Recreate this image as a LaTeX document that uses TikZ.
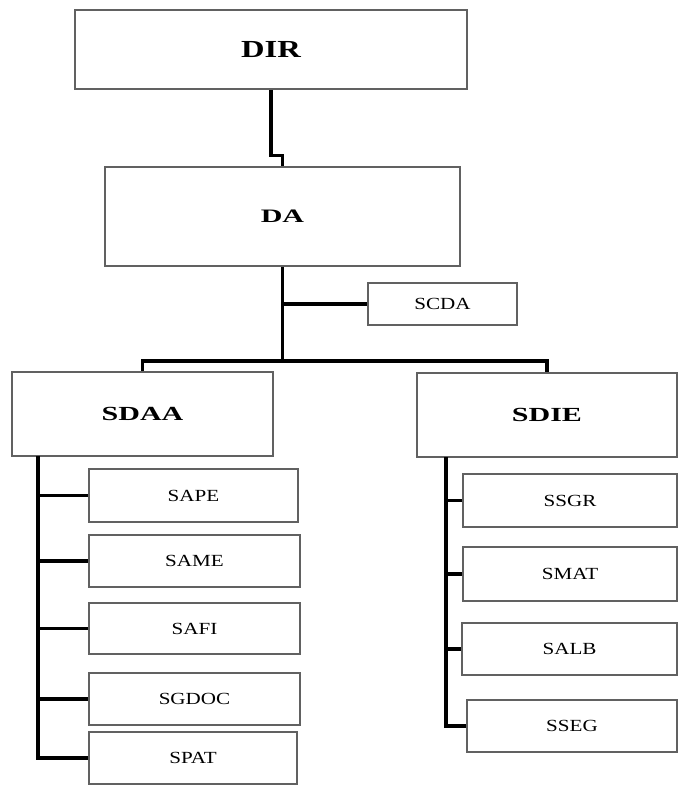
\documentclass[tikz,border=0pt]{standalone}
\usepackage{fontspec}
\usepackage{graphicx}
\setmainfont{Liberation Serif}
\newcommand\sxtext[2]{\scalebox{#1}[1]{#2}}
\usetikzlibrary{shadows}
\begin{document}
\begin{tikzpicture}[x=1pt,y=-1pt,
  box/.style={draw=black!62, line width=1.6pt, fill=white, inner sep=0pt,
    drop shadow={shadow xshift=1pt, shadow yshift=-1.2pt, fill=black!25, opacity=0.6}},
  hdr/.style={box},
  lbl/.style={box, font=\fontsize{17}{19}\selectfont},
  trunk/.style={line width=3.2pt},
  twig/.style={line width=3.2pt}]
\useasboundingbox (0,0) rectangle (678,787);
\fill[white] (0,0) rectangle (678,787);

\node[hdr, minimum width=392pt, minimum height=79pt, font=\bfseries\fontsize{24.5}{26}\selectfont] (DIR) at (271,49.5) {\sxtext{1.33}{DIR}};
\node[hdr, minimum width=355pt, minimum height=99pt, font=\bfseries\fontsize{19}{21}\selectfont] (DA) at (282.5,216.5) {\sxtext{1.58}{DA}};
\node[lbl, minimum width=149pt, minimum height=42pt] (SCDA) at (442.5,304) {\sxtext{1.24}{SCDA}};
\node[hdr, minimum width=261pt, minimum height=84pt, font=\bfseries\fontsize{20}{22}\selectfont] (SDAA) at (142.5,414) {\sxtext{1.5}{SDAA}};
\node[hdr, minimum width=260pt, minimum height=84pt, font=\bfseries\fontsize{20}{22}\selectfont] (SDIE) at (547,415) {\sxtext{1.5}{SDIE}};

\node[lbl, minimum width=209pt, minimum height=53pt] (SAPE) at (193.5,495.5) {\sxtext{1.24}{SAPE}};
\node[lbl, minimum width=211pt, minimum height=52pt] (SAME) at (194.5,561) {\sxtext{1.24}{SAME}};
\node[lbl, minimum width=211pt, minimum height=51pt] (SAFI) at (194.5,628.5) {\sxtext{1.24}{SAFI}};
\node[lbl, minimum width=211pt, minimum height=52pt] (SGDOC) at (194.5,699) {\sxtext{1.24}{SGDOC}};
\node[lbl, minimum width=208pt, minimum height=52pt] (SPAT) at (193,758) {\sxtext{1.24}{SPAT}};

\node[lbl, minimum width=214pt, minimum height=53pt] (SSGR) at (570,500.5) {\sxtext{1.24}{SSGR}};
\node[lbl, minimum width=214pt, minimum height=54pt] (SMAT) at (570,574) {\sxtext{1.24}{SMAT}};
\node[lbl, minimum width=215pt, minimum height=52pt] (SALB) at (569.5,649) {\sxtext{1.24}{SALB}};
\node[lbl, minimum width=210pt, minimum height=52pt] (SSEG) at (572,726) {\sxtext{1.24}{SSEG}};

% DIR -> DA
\draw[trunk] (DIR.south) -- ++(0,66) -| (DA.north);
% DA -> bar
\coordinate (J) at (282.5,361);
\draw[trunk] (DA.south) -- (J);
\draw[twig] (DA.south |- SCDA.west) -- (SCDA.west);
\draw[trunk] (SDAA.north) |- (J) -| (SDIE.north);

% SDAA branch
\coordinate (TL) at (38,456);
\draw[trunk] (TL) |- (SPAT.west);
\foreach \n in {SAPE,SAME,SAFI,SGDOC}
  \draw[twig] (\n.west -| TL) -- (\n.west);

% SDIE branch
\coordinate (TR) at (446,457);
\draw[trunk] (TR) |- (SSEG.west);
\foreach \n in {SSGR,SMAT,SALB}
  \draw[twig] (\n.west -| TR) -- (\n.west);
\end{tikzpicture}
\end{document}
